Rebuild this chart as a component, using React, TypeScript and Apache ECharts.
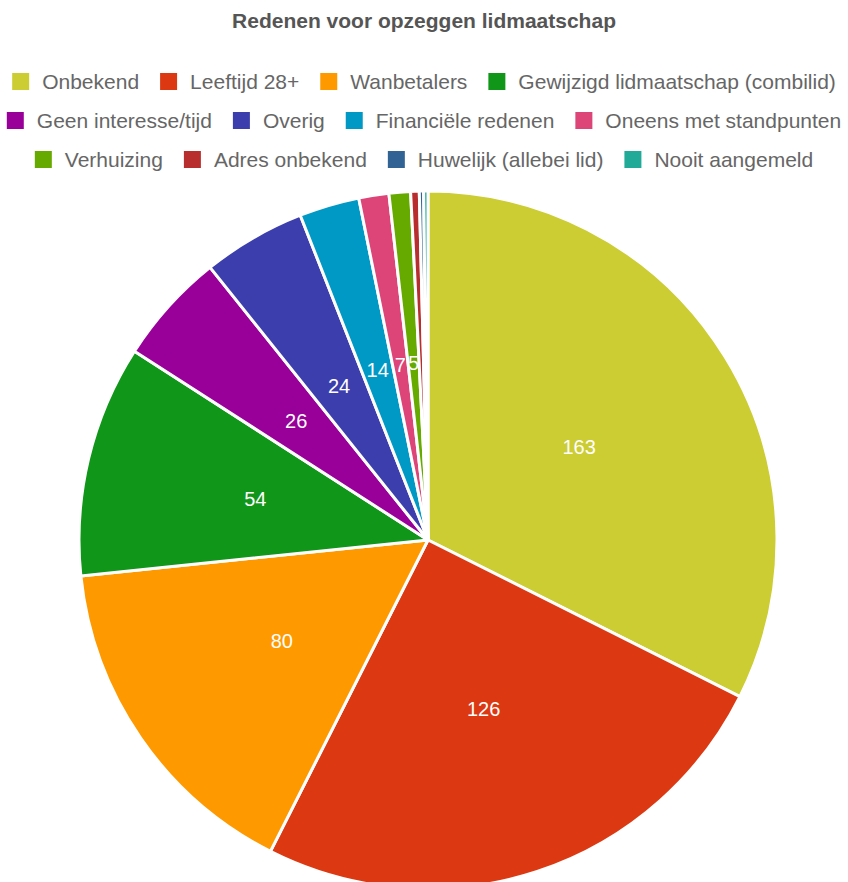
import React, { useEffect, useRef } from "react";
import * as echarts from "echarts";

const categories = [
  "Onbekend",
  "Leeftijd 28+",
  "Wanbetalers",
  "Gewijzigd lidmaatschap (combilid)",
  "Geen interesse/tijd",
  "Overig",
  "Financiële redenen",
  "Oneens met standpunten",
  "Verhuizing",
  "Adres onbekend",
  "Huwelijk (allebei lid)",
  "Nooit aangemeld",
];
const values = [163, 126, 80, 54, 26, 24, 14, 7, 5, 2, 1, 1];
const colors = [
  "#cccc33",
  "#dc3912",
  "#ff9900",
  "#109618",
  "#990099",
  "#3b3eac",
  "#0099c6",
  "#dd4477",
  "#66aa00",
  "#b82e2e",
  "#316395",
  "#22aa99",
];
const legendRows = [
  categories.slice(0, 4),
  categories.slice(4, 8),
  categories.slice(8, 12),
];
const titleText = "Redenen voor opzeggen lidmaatschap";

export default function App() {
  const ref = useRef<HTMLDivElement>(null);
  useEffect(() => {
    if (!ref.current) return;
    const chart = echarts.init(ref.current, null, { renderer: "svg" });
    const font = "Arial, 'Liberation Sans', sans-serif";
    const legendTops = [71, 110, 149];
    chart.setOption({
      animation: false,
      color: colors,
      title: {
        text: titleText,
        left: "center",
        top: 10,
        padding: [0, 0, 0, 8],
        textStyle: { fontFamily: font, fontSize: 21, fontWeight: "bold", color: "#555" },
      },
      legend: legendRows.map((row, i) => ({
        data: row,
        top: legendTops[i],
        left: "center",
        padding: [0, 0, 0, 8],
        orient: "horizontal",
        icon: "rect",
        itemWidth: 17,
        itemHeight: 17,
        itemGap: 21,
        selectedMode: false,
        itemStyle: { borderWidth: 0 },
        textStyle: { fontFamily: font, fontSize: 21, color: "#666", padding: [0, 0, 0, 8] },
      })),
      series: [
        {
          type: "pie",
          center: [428, 540],
          radius: [0, 349],
          startAngle: 90,
          clockwise: true,
          avoidLabelOverlap: false,
          itemStyle: { borderColor: "#fff", borderWidth: 3 },
          label: {
            show: true,
            position: "inside",
            color: "#fff",
            fontFamily: font,
            fontSize: 20,
            formatter: (p: any) => (p.value >= 5 ? String(p.value) : ""),
          },
          labelLine: { show: false },
          emphasis: { disabled: true },
          data: categories.map((c, i) => ({ name: c, value: values[i] })),
        },
      ],
    });
    return () => chart.dispose();
  }, []);
  return (
    <div
      ref={ref}
      style={{ position: "absolute", left: 0, top: 0, width: 848, height: 882 }}
    />
  );
}
